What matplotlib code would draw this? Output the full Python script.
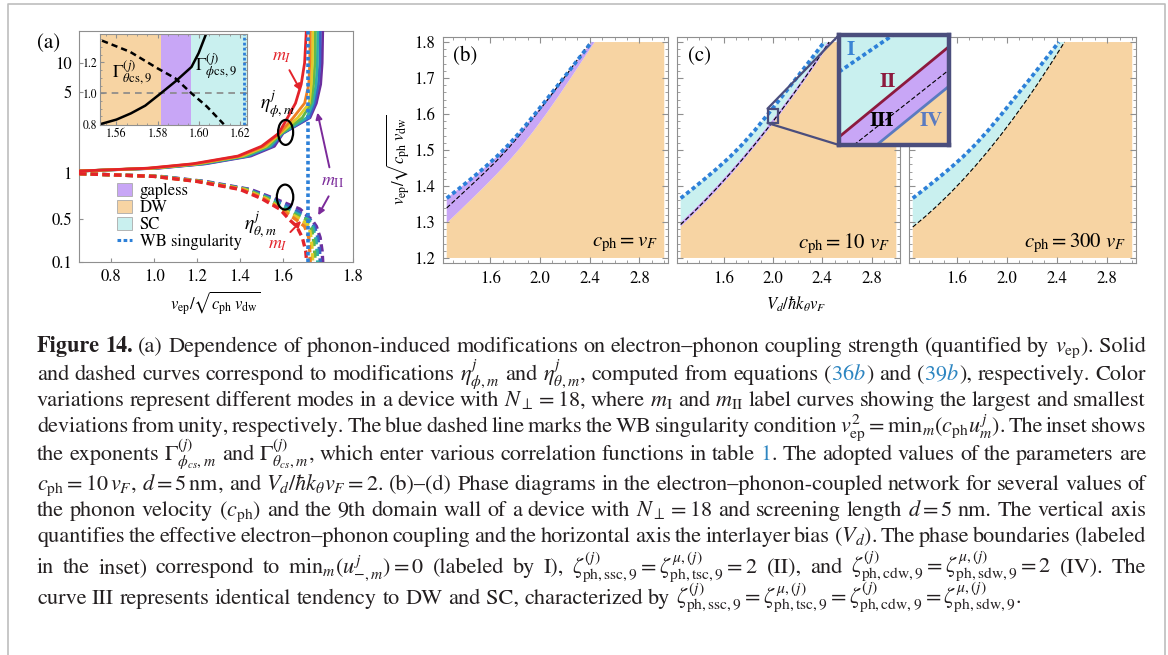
import re
import numpy as np
import matplotlib
matplotlib.use("Agg")
import matplotlib.pyplot as plt
from matplotlib.patches import Patch, Ellipse, Rectangle, ConnectionPatch
from matplotlib.lines import Line2D
from matplotlib.ticker import MultipleLocator, NullLocator

plt.rcParams['font.family'] = ['STIXGeneral', 'DejaVu Serif']
plt.rcParams['mathtext.fontset'] = 'stix'

# ---------------- data ----------------
# (a) eta_phi (solid) / eta_theta (dashed): x position of each mode at shared eta levels
eta_phi_levels = [1.04, 1.1, 1.2, 1.4, 1.7, 2.2, 3.0, 4.0, 6.0, 10, 25]
eta_phi_x = [
    [0.65, 0.97, 1.18, 1.39, 1.500, 1.580, 1.604, 1.611, 1.616, 1.619, 1.621],
    [0.65, 0.98, 1.19, 1.40, 1.510, 1.584, 1.609, 1.619, 1.625, 1.629, 1.631],
    [0.65, 0.99, 1.20, 1.41, 1.520, 1.588, 1.613, 1.627, 1.635, 1.639, 1.641],
    [0.65, 1.00, 1.21, 1.42, 1.530, 1.592, 1.617, 1.634, 1.644, 1.649, 1.651],
    [0.65, 1.00, 1.22, 1.43, 1.540, 1.595, 1.621, 1.641, 1.654, 1.659, 1.661],
    [0.65, 1.01, 1.23, 1.44, 1.550, 1.598, 1.626, 1.648, 1.663, 1.669, 1.671],
    [0.65, 1.02, 1.24, 1.45, 1.560, 1.600, 1.630, 1.655, 1.672, 1.678, 1.681],
]
eta_theta_levels = [0.99, 0.95, 0.88, 0.78, 0.68, 0.58, 0.48, 0.38, 0.25, 0.15, 0.09]
eta_theta_x = [
    [0.65, 1.00, 1.20, 1.40, 1.50, 1.585, 1.606, 1.612, 1.617, 1.6200, 1.621],
    [0.65, 1.00, 1.21, 1.41, 1.51, 1.590, 1.612, 1.619, 1.625, 1.629, 1.631],
    [0.65, 1.01, 1.21, 1.42, 1.52, 1.595, 1.617, 1.626, 1.634, 1.639, 1.641],
    [0.65, 1.01, 1.22, 1.43, 1.53, 1.600, 1.621, 1.633, 1.643, 1.648, 1.651],
    [0.65, 1.02, 1.22, 1.43, 1.54, 1.605, 1.626, 1.640, 1.652, 1.658, 1.661],
    [0.65, 1.02, 1.23, 1.44, 1.55, 1.610, 1.632, 1.647, 1.661, 1.668, 1.671],
    [0.65, 1.03, 1.24, 1.45, 1.56, 1.615, 1.638, 1.655, 1.670, 1.678, 1.681],
]
mode_colors = ['#e3232a', '#f07f22', '#e0cc2a', '#62b94a', '#2eb0a6', '#3a63c6', '#6b2f9e']
v_wb = 1.622

# (a) inset: exponents
gamma_phi_x = [1.552, 1.560, 1.567, 1.574, 1.5816, 1.589, 1.5965, 1.600, 1.6035]
gamma_phi_y = [0.80, 0.83, 0.87, 0.92, 1.00, 1.08, 1.17, 1.26, 1.38]
gamma_theta_x = [1.553, 1.5666, 1.580, 1.5886, 1.5965, 1.604, 1.6122]
gamma_theta_y = [1.34, 1.268, 1.161, 1.097, 1.00, 0.914, 0.80]
inset_dw_end = 1.5816
inset_sc_start = 1.5965

# (b)-(d) phase boundaries, V_d (x) vs v_ep (y)
vd_lo, vd_hi = 1.25, 3.0
vep_lo, vep_hi = 1.2, 1.8
line_I_x = [1.25, 1.35, 1.45, 1.55, 1.65, 1.75, 1.85, 1.95, 2.05, 2.15, 2.25, 2.35, 2.415]
line_I_y = [1.366, 1.393, 1.421, 1.450, 1.481, 1.5155, 1.554, 1.596, 1.639, 1.6825, 1.7265, 1.771, 1.80]

b_III_x = [1.25, 1.35, 1.45, 1.55, 1.65, 1.75, 1.85, 1.95, 2.05, 2.15, 2.25, 2.35, 2.405]
b_III_y = [1.339, 1.371, 1.403, 1.4355, 1.4695, 1.5065, 1.547, 1.590, 1.6345, 1.680, 1.7265, 1.774, 1.80]
b_IV_x = [1.25, 1.35, 1.45, 1.55, 1.65, 1.75, 1.85, 1.95, 2.05, 2.15, 2.25, 2.35, 2.44]
b_IV_y = [1.297, 1.330, 1.3635, 1.3975, 1.4325, 1.4695, 1.5095, 1.5535, 1.6005, 1.650, 1.7012, 1.7535, 1.80]

c_II_x = [1.25, 1.35, 1.45, 1.55, 1.65, 1.75, 1.85, 1.95, 2.05, 2.15, 2.25, 2.35, 2.442]
c_II_y = [1.300, 1.3328, 1.3673, 1.4035, 1.4413, 1.4808, 1.522, 1.5648, 1.6093, 1.6555, 1.7033, 1.7528, 1.80]
c_III_x = [1.25, 1.35, 1.45, 1.55, 1.65, 1.75, 1.85, 1.95, 2.05, 2.15, 2.25, 2.35, 2.455]
c_III_y = [1.293, 1.3258, 1.3603, 1.3965, 1.4343, 1.4738, 1.515, 1.5578, 1.6023, 1.6485, 1.6963, 1.7458, 1.80]
c_IV_x = [1.25, 1.35, 1.45, 1.55, 1.65, 1.75, 1.85, 1.95, 2.05, 2.15, 2.25, 2.35, 2.467]
c_IV_y = [1.287, 1.3198, 1.3543, 1.3905, 1.4283, 1.4678, 1.509, 1.5518, 1.5963, 1.6425, 1.6903, 1.7398, 1.80]

d_IV_x = [1.25, 1.35, 1.45, 1.55, 1.65, 1.75, 1.85, 1.95, 2.05, 2.15, 2.25, 2.35, 2.46]
d_IV_y = [1.286, 1.3152, 1.3468, 1.3808, 1.4172, 1.456, 1.4972, 1.5408, 1.5868, 1.6352, 1.686, 1.7392, 1.80]

# magnified window of panel (c)
zoom_x0, zoom_x1 = 1.955, 2.04
zoom_y0, zoom_y1 = 1.575, 1.615
zoom_I_x, zoom_I_y = [1.955, 1.9967], [1.6016, 1.615]
zoom_II_x, zoom_II_y = [1.955, 2.04], [1.5779, 1.6108]
zoom_III_x, zoom_III_y = [1.9665, 2.04], [1.575, 1.6023]
zoom_IV_x, zoom_IV_y = [1.9841, 2.04], [1.575, 1.5964]

DW_C = '#f7d4a3'
GAP_C = '#c8a6f6'
SC_C = '#c9f0ef'
WB_C = '#2d80d8'
NAVY = '#4b4e7d'
FRAME_C = '#8f8f8f'
TXT_C = '#231f20'
LINK_C = '#2e86c1'

W, H = 1168, 655
fig = plt.figure(figsize=(W / 100, H / 100), dpi=100)


def fx(px):
    return px / W


def fy(py):
    return 1 - py / H


def add_axes_px(l, t, r, b):
    return fig.add_axes([l / W, 1 - b / H, (r - l) / W, (b - t) / H])


def ptext(px, py, s, **kw):
    return fig.text(fx(px), fy(py), s, **kw)


# outer box
fig.add_artist(Line2D([fx(8), fx(8), fx(1165), fx(1165)], [fy(660), fy(4), fy(4), fy(660)],
                      color='#bdbdbd', lw=1.2))

# ---------------- panel (a) ----------------
# stretched axes near the singularity
XA = [0.0, 0.65, 1.6, 1.622, 1.8, 3.0]
XP = [79 - 0.65 * 214.7, 79, 283, 308, 353, 353 + 1.2 * 252.8]
LY = [-3, -1, np.log10(0.5), 0, np.log10(5), 1, np.log10(20), 3]
PY = [385, 262, 219, 173, 92, 63, 31, -149]


def fwd_x(x):
    return np.interp(x, XA, XP)


def inv_x(u):
    return np.interp(u, XP, XA)


def fwd_y(y):
    return -np.interp(np.log10(np.clip(y, 1e-6, None)), LY, PY)


def inv_y(u):
    return 10 ** np.interp(-np.asarray(u), PY[::-1], LY[::-1])


axa = add_axes_px(79, 31, 353, 262)
axa.set_xscale('function', functions=(fwd_x, inv_x))
axa.set_yscale('function', functions=(fwd_y, inv_y))
axa.set_xlim(0.65, 1.8)
axa.set_ylim(0.1, 20)

for k in reversed(range(len(mode_colors))):
    axa.plot(eta_phi_x[k], eta_phi_levels, color=mode_colors[k], lw=2.0, zorder=3)
for k in reversed(range(len(mode_colors))):
    axa.plot(eta_theta_x[k], eta_theta_levels, color=mode_colors[k], lw=2.4,
             ls=(0, (2.2, 1.3)), zorder=3)
axa.axvline(v_wb, color=WB_C, lw=2.6, ls=(0, (1.0, 0.8)), zorder=4)

axa.set_xticks([0.8, 1.0, 1.2, 1.4, 1.6, 1.8])
axa.set_xticklabels(['0.8', '1.0', '1.2', '1.4', '1.6', '1.8'])
axa.set_yticks([0.1, 0.5, 1, 5, 10])
axa.set_yticklabels(['0.1', '0.5', '1', '5', '10'])
axa.xaxis.set_minor_locator(NullLocator())
axa.yaxis.set_minor_locator(NullLocator())
axa.tick_params(direction='in', length=3, color=FRAME_C, labelsize=12, pad=5)
for s in axa.spines.values():
    s.set_color(FRAME_C)
    s.set_linewidth(0.8)

axa.add_patch(Ellipse((0.754, 0.561), 0.055, 0.108, transform=axa.transAxes,
                      fill=False, ec='k', lw=1.6, zorder=5))
axa.add_patch(Ellipse((0.752, 0.281), 0.060, 0.108, transform=axa.transAxes,
                      fill=False, ec='k', lw=1.6, zorder=5))
axa.text(1.572, 3.9, r'$\eta^{j}_{\phi,m}$', fontsize=14, ha='center', va='center')
axa.text(1.493, 0.40, r'$\eta^{j}_{\theta,m}$', fontsize=14, ha='center', va='center')

arrow_red = dict(arrowstyle='-|>', color=mode_colors[0], lw=1.4, mutation_scale=9)
arrow_pur = dict(arrowstyle='-|>', color='#7b2a9a', lw=1.4, mutation_scale=9)
axa.annotate(r'$m_I$', xy=(1.6167, 4.9), xytext=(1.596, 11.4), color=mode_colors[0],
             fontsize=13, ha='center', va='center', arrowprops=arrow_red)
axa.annotate(r'$m_I$', xy=(1.6176, 0.5), xytext=(1.577, 0.19), color=mode_colors[0],
             fontsize=13, ha='center', va='center', arrowprops=arrow_red)
axa.text(1.718, 0.87, r'$m_{\mathrm{II}}$', color='#7b2a9a', fontsize=13, ha='center', va='center')
axa.annotate('', xy=(1.657, 3.5), xytext=(1.709, 1.06), arrowprops=arrow_pur)
axa.annotate('', xy=(1.657, 0.51), xytext=(1.709, 0.73), arrowprops=arrow_pur)

legend_handles = [Patch(fc=GAP_C, ec='#aaaaaa', lw=0.6), Patch(fc=DW_C, ec='#aaaaaa', lw=0.6),
                  Patch(fc=SC_C, ec='#aaaaaa', lw=0.6),
                  Line2D([0], [0], color=WB_C, lw=2.2, ls=(0, (1.2, 0.8)))]
axa.legend(legend_handles, ['gapless', 'DW', 'SC', 'WB singularity'], loc='upper left',
           bbox_to_anchor=((117 - 79) / 274, (262 - 183) / 231), frameon=False, fontsize=12,
           handlelength=0.9, handleheight=0.8, labelspacing=0.05, handletextpad=0.45,
           borderpad=0, borderaxespad=0)

ptext(49, 43, '(a)', fontsize=15, ha='center', va='center')
ptext(215, 303, r'$v_{\mathrm{ep}}/\sqrt{c_{\mathrm{ph}}\;v_{\mathrm{dw}}}$', fontsize=12,
      ha='center', va='center')

# inset of (a)
axi = add_axes_px(100, 34, 247, 125)
axi.set_xlim(1.552, 1.6235)
axi.set_ylim(0.795, 1.383)
axi.axvspan(1.552, inset_dw_end, color=DW_C, lw=0)
axi.axvspan(inset_dw_end, inset_sc_start, color=GAP_C, lw=0)
axi.axvspan(inset_sc_start, 1.6235, color=SC_C, lw=0)
axi.axhline(1.0, color='#888888', lw=1.2, ls=(0, (4, 3)))
axi.axvline(v_wb, color=WB_C, lw=2.0, ls=(0, (1.0, 0.8)))
axi.plot(gamma_phi_x, gamma_phi_y, color='k', lw=1.8)
axi.plot(gamma_theta_x, gamma_theta_y, color='k', lw=1.8, ls=(0, (2.5, 1.6)))
axi.set_xticks([1.56, 1.58, 1.60, 1.62])
axi.set_xticklabels(['1.56', '1.58', '1.60', '1.62'])
axi.set_yticks([0.8, 1.0, 1.2])
axi.set_yticklabels(['0.8', '1.0', '1.2'])
axi.xaxis.set_minor_locator(MultipleLocator(0.005))
axi.yaxis.set_minor_locator(MultipleLocator(0.05))
axi.tick_params(which='both', direction='in', top=True, right=True, color=FRAME_C,
                labelsize=8.5, pad=2)
axi.tick_params(which='major', length=3)
axi.tick_params(which='minor', length=1.5)
for s in axi.spines.values():
    s.set_color(FRAME_C)
    s.set_linewidth(0.8)
axi.text(0.22, 0.58, r'$\Gamma^{(j)}_{\theta\mathrm{cs},9}$', transform=axi.transAxes,
         fontsize=13, ha='center', va='center')
axi.text(0.79, 0.64, r'$\Gamma^{(j)}_{\phi\mathrm{cs},9}$', transform=axi.transAxes,
         fontsize=13, ha='center', va='center')

# ---------------- panels (b)-(d) ----------------
def phase_panel(ax, I, II, III, IV, label, speed, show_y):
    ax.set_xlim(1.22, 3.03)
    ax.set_ylim(1.186, 1.814)
    ax.fill(np.r_[IV[0], [vd_hi, vd_hi, vd_lo]], np.r_[IV[1], [vep_hi, vep_lo, vep_lo]],
            color=DW_C, lw=0)
    if II is not IV:
        ax.fill(np.r_[II[0], IV[0][::-1]], np.r_[II[1], IV[1][::-1]], color=GAP_C, lw=0)
    if II is not I:
        ax.fill(np.r_[I[0], II[0][::-1]], np.r_[I[1], II[1][::-1]], color=SC_C, lw=0)
    ax.plot(III[0], III[1], color='k', lw=0.8, ls=(0, (4, 2)), zorder=3)
    ax.plot(I[0], I[1], color=WB_C, lw=2.7, ls=(0, (1.1, 0.8)), zorder=4)
    ax.set_xticks([1.6, 2.0, 2.4, 2.8])
    ax.set_xticklabels(['1.6', '2.0', '2.4', '2.8'])
    ax.set_yticks([1.2, 1.3, 1.4, 1.5, 1.6, 1.7, 1.8])
    ax.set_yticklabels(['1.2', '1.3', '1.4', '1.5', '1.6', '1.7', '1.8'])
    ax.xaxis.set_minor_locator(MultipleLocator(0.1))
    ax.yaxis.set_minor_locator(MultipleLocator(0.02))
    ax.tick_params(which='both', direction='in', top=True, right=True, color=FRAME_C,
                   labelsize=12, labelleft=show_y, pad=6)
    ax.tick_params(which='major', length=4)
    ax.tick_params(which='minor', length=2)
    for s in ax.spines.values():
        s.set_color(FRAME_C)
        s.set_linewidth(0.8)
    ax.text(0.1, 0.915, label, transform=ax.transAxes, fontsize=15, ha='center', va='center')
    ax.text(0.955, 0.085, speed, transform=ax.transAxes, fontsize=15, ha='right', va='center')


I_line = (np.array(line_I_x), np.array(line_I_y))
b_III = (np.array(b_III_x), np.array(b_III_y))
b_IV = (np.array(b_IV_x), np.array(b_IV_y))
c_II = (np.array(c_II_x), np.array(c_II_y))
c_III = (np.array(c_III_x), np.array(c_III_y))
c_IV = (np.array(c_IV_x), np.array(c_IV_y))
d_IV = (np.array(d_IV_x), np.array(d_IV_y))

axb = add_axes_px(443, 37, 668, 263)
phase_panel(axb, I_line, I_line, b_III, b_IV, '(b)', r'$c_{\mathrm{ph}}=v_F$', True)
axc = add_axes_px(677, 37, 900, 263)
phase_panel(axc, I_line, c_II, c_III, c_IV, '(c)', r'$c_{\mathrm{ph}}=10\ v_F$', False)
axd = add_axes_px(909, 37, 1136, 263)
phase_panel(axd, I_line, d_IV, d_IV, d_IV, '(d)', r'$c_{\mathrm{ph}}=300\ v_F$', False)

ptext(398, 160, r'$v_{\mathrm{ep}}/\sqrt{c_{\mathrm{ph}}\;v_{\mathrm{dw}}}$', fontsize=12,
      rotation=90, ha='center', va='center')
ptext(796, 304, r'$V_d/\hbar k_\theta v_F$', fontsize=12, ha='center', va='center')

# magnified window in (c)
axc.add_patch(Rectangle((zoom_x0, zoom_y0), zoom_x1 - zoom_x0, zoom_y1 - zoom_y0,
                        fill=False, ec=NAVY, lw=1.6, zorder=6))
axz = add_axes_px(839, 35, 949, 145)
axz.set_xlim(zoom_x0, zoom_x1)
axz.set_ylim(zoom_y0, zoom_y1)
axz.set_facecolor(SC_C)
axz.fill(np.r_[zoom_II_x, zoom_IV_x[::-1], [zoom_x0]],
         np.r_[zoom_II_y, zoom_IV_y[::-1], [zoom_y0]], color=GAP_C, lw=0)
axz.fill(np.r_[zoom_IV_x, [zoom_x1]], np.r_[zoom_IV_y, [zoom_y0]], color=DW_C, lw=0)
axz.plot(zoom_II_x, zoom_II_y, color='#8c1a3e', lw=2.0)
axz.plot(zoom_IV_x, zoom_IV_y, color='#5b7bc0', lw=2.0)
axz.plot(zoom_III_x, zoom_III_y, color='k', lw=0.8, ls=(0, (4, 2)))
axz.plot(zoom_I_x, zoom_I_y, color=WB_C, lw=2.7, ls=(0, (1.1, 0.8)))
axz.set_xticks([])
axz.set_yticks([])
for s in axz.spines.values():
    s.set_color(NAVY)
    s.set_linewidth(3.2)
for s, xx, yy, c in [('I', 0.11, 0.86, '#3a84d4'), ('II', 0.44, 0.575, '#8c1a3e'),
                     ('III', 0.39, 0.215, 'k'), ('IV', 0.84, 0.215, '#5b7bc0')]:
    axz.text(xx, yy, s, transform=axz.transAxes, color=c, fontsize=15, fontweight='bold',
             ha='center', va='center')
for ya, yb in [(zoom_y1, 1), (zoom_y0, 0)]:
    fig.add_artist(ConnectionPatch((zoom_x0, ya), (0, yb), coordsA=axc.transData,
                                   coordsB=axz.transAxes, color=NAVY, lw=1.6))

# ---------------- caption ----------------
caption_lines = [
    "*Figure *14. (a) Dependence of phonon-induced modifications on electron–phonon coupling strength (quantified by $v_{\\mathrm{ep}}$). Solid",
    "and dashed curves correspond to modifications $\\eta^{j}_{\\phi,m}$ and $\\eta^{j}_{\\theta,m}$, computed from equations ([36$b$]) and ([39$b$]), respectively. Color",
    "variations represent different modes in a device with $N_\\perp=18$, where $m_{\\mathrm{I}}$ and $m_{\\mathrm{II}}$ label curves showing the largest and smallest",
    "deviations from unity, respectively. The blue dashed line marks the WB singularity condition $v^2_{\\mathrm{ep}}=\\mathrm{min}_m(c_{\\mathrm{ph}}u^{j}_m)$. The inset shows",
    "the exponents $\\Gamma^{(j)}_{\\phi_{cs},m}$ and $\\Gamma^{(j)}_{\\theta_{cs},m}$, which enter various correlation functions in table [1]. The adopted values of the parameters are",
    "$c_{\\mathrm{ph}}=10\\,v_F$, $d=5\\,$nm, and $V_d/\\hbar{}k_\\theta{}v_F=2$. (b)–(d) Phase diagrams in the electron–phonon-coupled network for several values of",
    "the phonon velocity ($c_{\\mathrm{ph}}$) and the 9th domain wall of a device with $N_\\perp=18$ and screening length $d=5$ nm. The vertical axis",
    "quantifies the effective electron–phonon coupling and the horizontal axis the interlayer bias ($V_d$). The phase boundaries (labeled",
    "in the inset) correspond to $\\mathrm{min}_m(u^{j}_{-,m})=0$ (labeled by I), $\\zeta^{(j)}_{\\mathrm{ph,ssc,9}}=\\zeta^{\\mu,(j)}_{\\mathrm{ph,tsc,9}}=2$ (II), and $\\zeta^{(j)}_{\\mathrm{ph,cdw,9}}=\\zeta^{\\mu,(j)}_{\\mathrm{ph,sdw,9}}=2$ (IV). The",
    "curve III represents identical tendency to DW and SC, characterized by $\\zeta^{(j)}_{\\mathrm{ph,ssc,9}}=\\zeta^{\\mu,(j)}_{\\mathrm{ph,tsc,9}}=\\zeta^{(j)}_{\\mathrm{ph,cdw,9}}=\\zeta^{\\mu,(j)}_{\\mathrm{ph,sdw,9}}$.",
]
caption_base = [352, 380, 406, 432, 460, 490, 516, 542, 573, 604]
CAP_SIZE = 16


def token_pieces(tok):
    if tok.startswith('*'):
        return [(tok.strip('*'), TXT_C, 'bold')]
    out = []
    for part in re.split(r'(\[[^\]]*\])', tok):
        if not part:
            continue
        if part.startswith('['):
            out.append((part[1:-1], LINK_C, 'normal'))
        else:
            out.append((part, TXT_C, 'normal'))
    return out


renderer = fig.canvas.get_renderer()
x_left, x_right = 37, 1146
for n, (line, yb) in enumerate(zip(caption_lines, caption_base)):
    groups, widths = [], []
    for tok in line.split(' '):
        arts = [ptext(0, yb, s, color=c, fontweight=w, fontsize=CAP_SIZE, va='baseline', ha='left')
                for s, c, w in token_pieces(tok)]
        groups.append(arts)
        widths.append([a.get_window_extent(renderer).width for a in arts])
    total = sum(sum(w) for w in widths)
    space = CAP_SIZE * 100 / 72 * 0.25
    if n < len(caption_lines) - 1:
        gap = max((x_right - x_left - total) / (len(groups) - 1), 0.5 * space)
    else:
        gap = space
    x = x_left
    for arts, ws in zip(groups, widths):
        for a, w in zip(arts, ws):
            a.set_x(fx(x))
            x += w
        x += gap

fig.savefig('out.png', dpi=100)
